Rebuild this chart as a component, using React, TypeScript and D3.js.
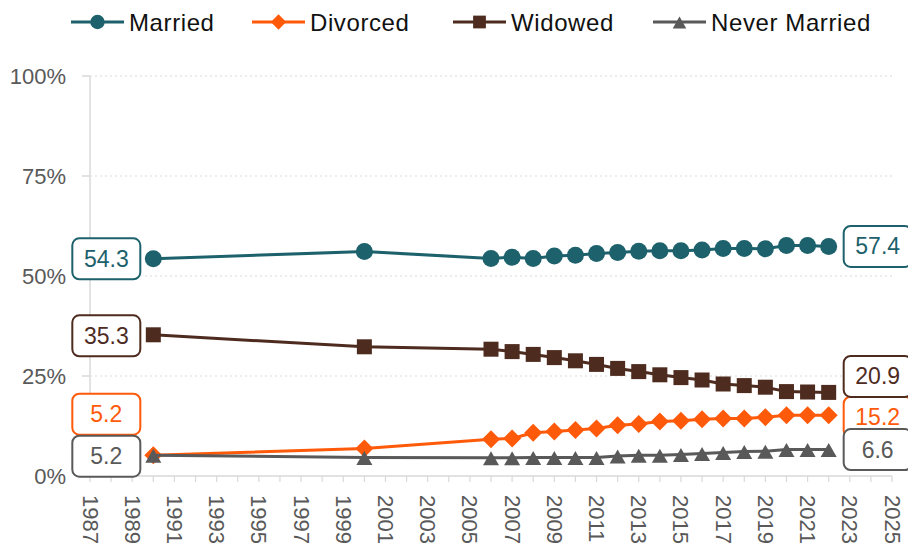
import React from "react";
import * as d3 from "d3";

const years = [1990, 2000, 2006, 2007, 2008, 2009, 2010, 2011, 2012, 2013, 2014, 2015, 2016, 2017, 2018, 2019, 2020, 2021, 2022];
const married = [54.3, 56.1, 54.4, 54.7, 54.4, 55.0, 55.2, 55.6, 55.9, 56.2, 56.3, 56.3, 56.5, 56.9, 56.9, 56.8, 57.6, 57.6, 57.4];
const divorced = [5.2, 6.9, 9.2, 9.4, 10.8, 11.1, 11.5, 11.9, 12.7, 13.0, 13.6, 13.8, 14.2, 14.4, 14.4, 14.7, 15.2, 15.2, 15.2];
const widowed = [35.3, 32.3, 31.7, 31.1, 30.4, 29.6, 28.8, 27.9, 26.9, 26.1, 25.3, 24.6, 24.0, 23.0, 22.6, 22.2, 21.1, 21.0, 20.9];
const neverMarried = [5.2, 4.6, 4.55, 4.55, 4.6, 4.6, 4.65, 4.65, 5.0, 5.2, 5.2, 5.35, 5.6, 5.9, 6.1, 6.2, 6.6, 6.6, 6.6];

const seriesNames = ["Married", "Divorced", "Widowed", "Never Married"];
const yTicks = [0, 25, 50, 75, 100];
const xDomain = [1987, 2025];

const colors: Record<string, string> = {
  Married: "#1c616b",
  Divorced: "#ff5a0a",
  Widowed: "#4e2b1f",
  "Never Married": "#595959",
};
const markers: Record<string, string> = {
  Married: "circle",
  Divorced: "diamond",
  Widowed: "square",
  "Never Married": "triangle",
};
// label vertical nudges (px) to avoid overlaps
const leftNudge: Record<string, number> = { Married: 0, Divorced: -41, Widowed: 1, "Never Married": 1 };
const rightNudge: Record<string, number> = { Married: 0, Divorced: 2, Widowed: -16, "Never Married": 0 };
const legendX = [71, 252, 453, 653];

const FONT = "'Liberation Sans', Arial, sans-serif";

function Marker({ kind, cx, cy, color, s = 1 }: { kind: string; cx: number; cy: number; color: string; s?: number }) {
  if (kind === "circle") return <circle cx={cx} cy={cy} r={8.5 * s} fill={color} />;
  if (kind === "square") return <rect x={cx - 7.5 * s} y={cy - 7.5 * s} width={15 * s} height={15 * s} fill={color} />;
  if (kind === "diamond") {
    const r = 9 * s;
    return <path d={`M${cx},${cy - r}L${cx + r},${cy}L${cx},${cy + r}L${cx - r},${cy}Z`} fill={color} />;
  }
  const hw = 8 * s;
  return <path d={`M${cx},${cy - 6.5 * s}L${cx + hw},${cy + 7.5 * s}L${cx - hw},${cy + 7.5 * s}Z`} fill={color} />;
}

export default function App() {
  const W = 908, H = 546;
  const x = d3.scaleLinear().domain(xDomain).range([90, 892]);
  const y = d3.scaleLinear().domain([0, 100]).range([476, 76]);
  const data: Record<string, number[]> = {
    Married: married,
    Divorced: divorced,
    Widowed: widowed,
    "Never Married": neverMarried,
  };
  const line = d3.line<number>().x((_, i) => x(years[i])).y((d) => y(d));
  const allYears = d3.range(xDomain[0], xDomain[1] + 1);
  const labelYears = allYears.filter((yr) => (yr - 1987) % 2 === 0);
  const boxW = 68, boxH = 41;

  return (
    <svg width={W} height={H} style={{ position: "absolute", left: 0, top: 0, background: "#fff" }} fontFamily={FONT}>
      {yTicks.filter((t) => t > 0).map((t) => (
        <line key={t} x1={x(xDomain[0])} x2={x(xDomain[1])} y1={y(t)} y2={y(t)} stroke="#d9d9d9" strokeWidth={1} strokeDasharray="2,3" />
      ))}
      <line x1={90} x2={90} y1={y(100)} y2={y(0)} stroke="#d9d9d9" strokeWidth={1.5} />
      {yTicks.map((t) => (
        <g key={t}>
          <line x1={82} x2={90} y1={y(t)} y2={y(t)} stroke="#d9d9d9" strokeWidth={1.5} />
          <text x={66} y={y(t)} textAnchor="end" dominantBaseline="central" fontSize={22} fill="#595959">{t}%</text>
        </g>
      ))}
      <line x1={x(xDomain[0])} x2={x(xDomain[1])} y1={y(0)} y2={y(0)} stroke="#d9d9d9" strokeWidth={1.5} />
      {allYears.map((yr) => (
        <line key={yr} x1={x(yr)} x2={x(yr)} y1={y(0)} y2={y(0) + 6} stroke="#d9d9d9" strokeWidth={1.2} />
      ))}
      {labelYears.map((yr) => (
        <text key={yr} transform={`translate(${x(yr)},${495}) rotate(90)`} textAnchor="start" dominantBaseline="central" fontSize={22} fill="#595959">{yr}</text>
      ))}
      {seriesNames.map((name) => (
        <g key={name}>
          <path d={line(data[name]) || ""} fill="none" stroke={colors[name]} strokeWidth={3} />
          {data[name].map((v, i) => (
            <Marker key={i} kind={markers[name]} cx={x(years[i])} cy={y(v)} color={colors[name]} />
          ))}
        </g>
      ))}
      {seriesNames.map((name) => {
        const vals = data[name];
        const first = vals[0];
        const last = vals[vals.length - 1];
        const lx = x(years[0]) - 13 - boxW;
        const ly = y(first) + leftNudge[name];
        const rx = x(years[years.length - 1]) + 15;
        const ry = y(last) + rightNudge[name];
        return (
          <g key={name}>
            <rect x={lx} y={ly - boxH / 2} width={boxW} height={boxH} rx={7} fill="#fff" stroke={colors[name]} strokeWidth={2} />
            <text x={lx + boxW / 2} y={ly} textAnchor="middle" dominantBaseline="central" fontSize={23} fill={colors[name]}>{first.toFixed(1)}</text>
            <rect x={rx} y={ry - boxH / 2} width={boxW} height={boxH} rx={7} fill="#fff" stroke={colors[name]} strokeWidth={2} />
            <text x={rx + boxW / 2} y={ry} textAnchor="middle" dominantBaseline="central" fontSize={23} fill={colors[name]}>{last.toFixed(1)}</text>
          </g>
        );
      })}
      {seriesNames.map((name, i) => {
        const lx = legendX[i];
        const ly = 22;
        return (
          <g key={name}>
            <line x1={lx} x2={lx + 53} y1={ly} y2={ly} stroke={colors[name]} strokeWidth={3} />
            <Marker kind={markers[name]} cx={lx + 26.5} cy={ly} color={colors[name]} s={0.85} />
            <text x={lx + 58} y={ly} dominantBaseline="central" fontSize={24} letterSpacing={0.6} fill="#111">{name}</text>
          </g>
        );
      })}
    </svg>
  );
}
